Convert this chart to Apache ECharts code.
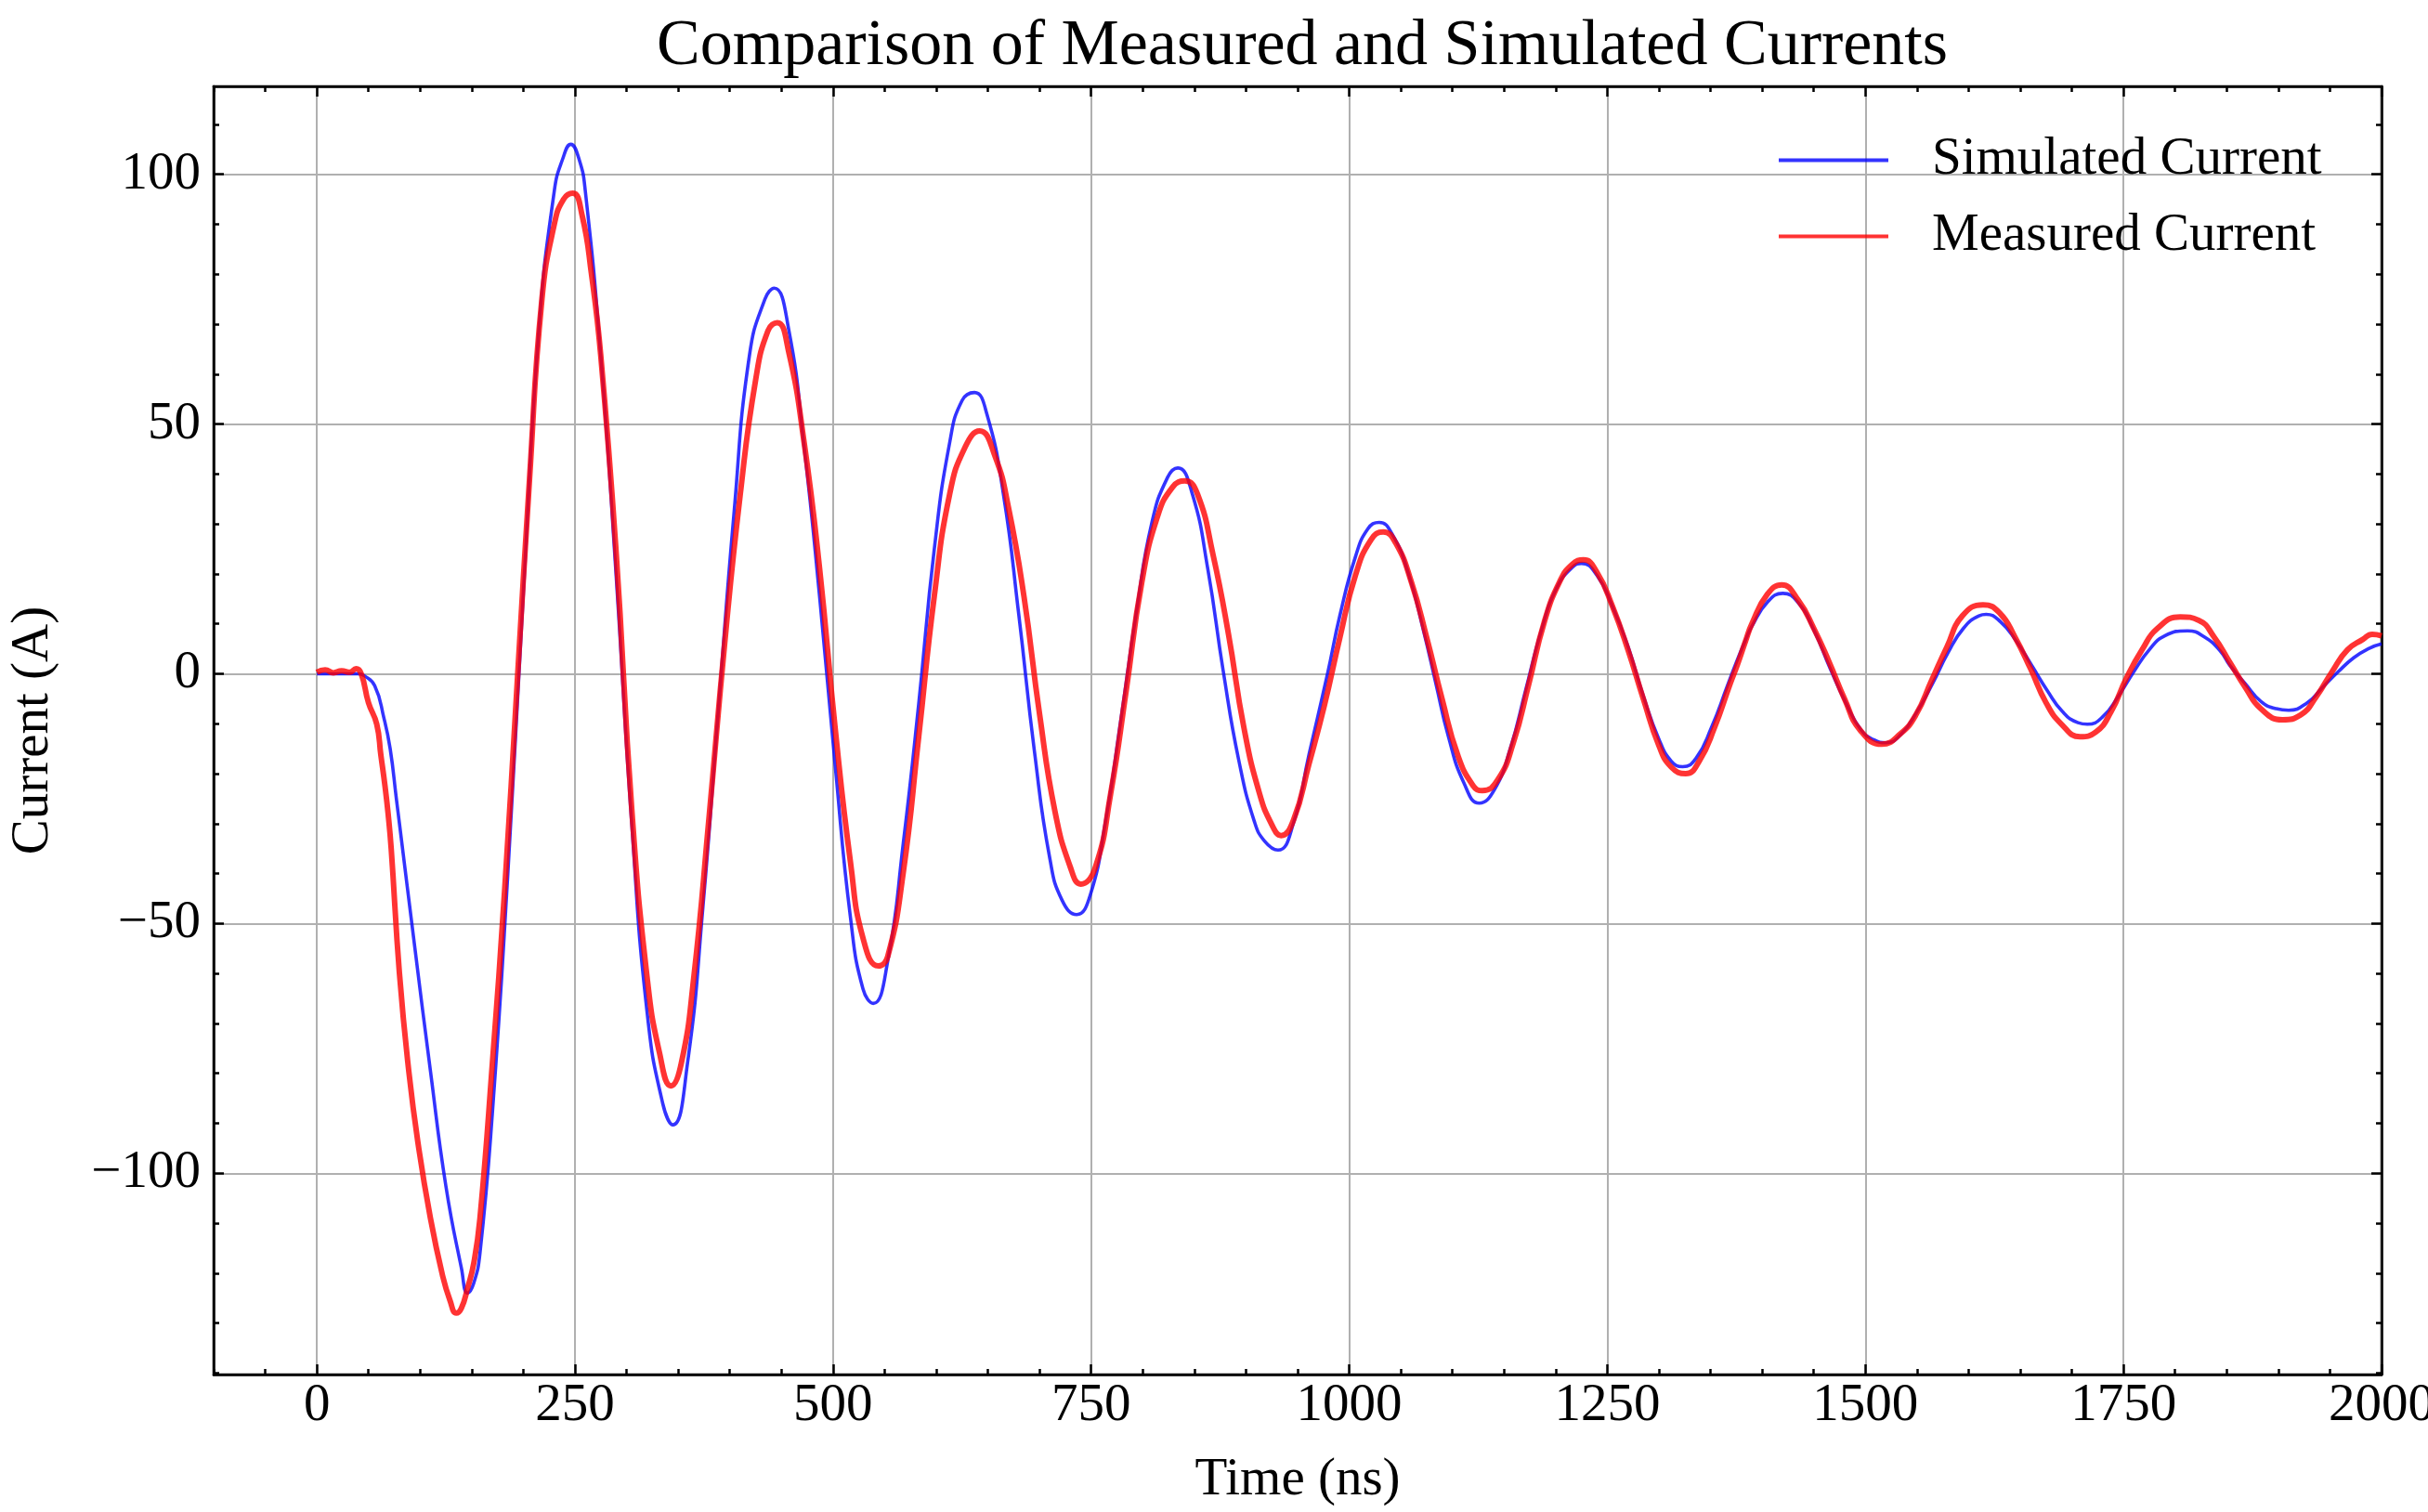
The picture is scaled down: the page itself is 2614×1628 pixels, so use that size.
<!DOCTYPE html>
<html><head><meta charset="utf-8">
<script src="https://cdn.jsdelivr.net/npm/echarts@6/dist/echarts.min.js"></script>
<style>html,body{margin:0;padding:0;background:#fff}#c{width:2614px;height:1628px}</style>
</head><body><div id="c"></div>
<script>
const simTime = [0,20,40,46,56,65,71,77,80,95,110,125,140,146,152,158,170,185,200,215,230,238,246,254,260,275,290,305,320,335,345,359,374,389,404,419,434,443,457,472,487,502,517,529,539,553,568,583,598,613,625,637,649,665,680,695,710,722,736,749,764,779,794,809,824,834,848,863,878,893,908,918,931,946,961,979,991,1006,1018,1029,1042,1057,1072,1084,1096,1111,1126,1141,1156,1171,1186,1201,1216,1225,1240,1255,1270,1285,1300,1312,1323,1336,1351,1366,1375,1384,1390,1405,1420,1435,1450,1466,1481,1496,1508,1520,1535,1550,1565,1580,1595,1610,1617,1631,1646,1661,1676,1691,1706,1715,1730,1745,1760,1775,1790,1812,1829,1844,1853,1868,1883,1898,1910,1928,1943,1958,1973,1988,2000];
const simCurrent = [0,0,0,-0.4,-2.4,-8.9,-15,-25,-30,-55,-79.5,-102.6,-119,-124,-122,-116,-88,-40,16,68.7,96.7,103,106,103,96.7,63.7,19.3,-30,-68,-86,-90.3,-78,-46.6,-7,32,63.7,75,77.2,69,45.4,15.4,-18.2,-49,-63.1,-66,-57.5,-34,-6,24.8,46.3,54.7,56.3,52,36,11.7,-15.4,-37,-45.4,-48.2,-44.4,-29.5,-8.9,12.6,30.4,39.3,41.2,36,21,0.5,-17.3,-29.5,-33.5,-35.3,-29.9,-16.2,0,11.7,23.4,29,30.3,27.8,20.3,8.6,-2,-12.5,-21.8,-25.9,-23.1,-15,-3.2,8.6,17.2,21.3,22.1,19.7,13.5,5.5,-4.5,-13.1,-17.5,-18.6,-16.9,-10.7,-2.6,2.3,6.8,9.5,14.3,16.1,14.2,8.8,1,-5.8,-11.3,-13.2,-13.8,-12,-7.6,-2,4.2,9.1,11.6,11.9,10.4,6.6,1.7,-3.3,-7.6,-9.8,-10.1,-8.6,-4.5,0.4,4.8,7.6,8.6,7.3,4.5,1.7,-2,-5.5,-7,-7.3,-5.8,-2.7,0.4,3.2,5.1,6];
const measTime = [0,8,16,24,32,38,43,50,58,62,66,69,72,80,89,98,110,122,129,135,140,146,152,158,170,182,194,206,218,230,239,248,257,266,275,290,305,320,332,343,353,365,380,395,410,425,437,446,457,472,487,502,517,529,544,553,568,583,598,613,628,642,657,670,685,700,715,730,740,754,769,784,799,814,829,841,853,868,883,898,913,925,934,946,961,976,991,1006,1021,1033,1045,1060,1075,1090,1105,1120,1129,1144,1159,1174,1189,1204,1216,1227,1240,1255,1270,1285,1300,1312,1326,1339,1354,1369,1376,1384,1390,1405,1419,1435,1450,1465,1480,1495,1516,1534,1549,1564,1579,1594,1614,1630,1645,1660,1675,1690,1708,1723,1738,1753,1768,1783,1805,1823,1838,1853,1868,1883,1904,1922,1937,1952,1967,1982,1991,2000];
const measCurrent = [0.3,0.8,0.2,0.6,0.3,1.0,0,-5.8,-10.1,-16.3,-22.5,-28,-35,-60,-79.5,-94,-109,-120.7,-125.5,-128,-127,-123,-118,-109,-78,-43,-2,39,75,90,95,96.2,91.7,80,63.7,24,-27,-61,-76,-82.5,-78,-61,-28.5,6,35.7,58.8,68.7,70.3,64.5,46.3,21,-10.8,-37.9,-52.9,-58.5,-56.6,-39.8,-12.6,15.4,36,45.4,48.6,43.5,33.2,15.4,-8,-27.6,-38.8,-42.1,-38.8,-23.9,-3.3,18.2,31.3,37.4,38.6,36,23.9,8,-10.8,-23.9,-30.2,-32.4,-29.3,-18.1,-6.3,7.3,19.7,26.8,28.4,26.2,18.5,7.3,-5.1,-16.2,-22.4,-23.4,-21.2,-13.8,-2,10.4,18.5,21.9,22.8,20.3,13.5,4.8,-5.1,-14.4,-18.7,-20,-17.5,-10.7,-2,1.8,6.6,10,15.9,17.8,14.7,9.1,2.3,-5.1,-11.3,-14.1,-12,-8.2,-1.4,5.4,11.6,13.8,12.2,7.3,1,-5.8,-10.1,-12.6,-11.7,-7.6,-0.8,4.8,9.1,11.4,10.7,7.3,2.3,-2.7,-7,-9.2,-8.2,-4.5,0.4,4.8,6.9,7.9,7.6];
const xMajorTicks = [0,250,500,750,1000,1250,1500,1750,2000];
const xMinorTicks = [-100,-50,0,50,100,150,200,250,300,350,400,450,500,550,600,650,700,750,800,850,900,950,1000,1050,1100,1150,1200,1250,1300,1350,1400,1450,1500,1550,1600,1650,1700,1750,1800,1850,1900,1950,2000];
const yMajorTicks = [-100,-50,0,50,100];
const yMinorTicks = [-140,-130,-120,-110,-100,-90,-80,-70,-60,-50,-40,-30,-20,-10,0,10,20,30,40,50,60,70,80,90,100,110];

const FONT = 'Liberation Serif';
const XMIN = -100, XMAX = 2000, YMIN = -140.3, YMAX = 117.6;
const black = '#000';
function fmt(v){ return v < 0 ? '\u2212' + Math.abs(v) : String(v); }

function xAx(pos, ticks, len, labels, split, line, extra) {
  return Object.assign({
    type: 'value', min: XMIN, max: XMAX, position: pos,
    axisLine: { show: line, onZero: false, lineStyle: { color: black, width: 2.5 } },
    axisTick: { show: true, inside: true, length: len, customValues: ticks, lineStyle: { color: black, width: 2.5 } },
    axisLabel: labels ? { show: true, customValues: ticks, fontFamily: FONT, fontSize: 57, color: black, margin: 6, formatter: fmt } : { show: false },
    splitLine: { show: split, lineStyle: { color: '#b0b0b0', width: 2 } }
  }, extra || {});
}
function yAx(pos, ticks, len, labels, split, line, extra) {
  return Object.assign({
    type: 'value', min: YMIN, max: YMAX, position: pos,
    axisLine: { show: line, onZero: false, lineStyle: { color: black, width: 2.5 } },
    axisTick: { show: true, inside: true, length: len, customValues: ticks, lineStyle: { color: black, width: 2.5 } },
    axisLabel: labels ? { show: true, customValues: ticks, fontFamily: FONT, fontSize: 57, color: black, margin: 14, formatter: fmt } : { show: false },
    splitLine: { show: split, lineStyle: { color: '#b0b0b0', width: 2 } }
  }, extra || {});
}

const chart = echarts.init(document.getElementById('c'), null, { renderer: 'canvas' });
chart.setOption({
  animation: false,
  backgroundColor: '#fff',
  title: {
    text: 'Comparison of Measured and Simulated Currents',
    left: 1397, top: 11, textAlign: 'center',
    textStyle: { fontFamily: FONT, fontSize: 70, fontWeight: 'normal', color: black }
  },
  legend: {
    orient: 'vertical', left: 1910, top: 139,
    itemWidth: 118, itemHeight: 4, itemGap: 25, icon: 'rect',
    textStyle: { fontFamily: FONT, fontSize: 57, color: black, padding: [0, 0, 0, 42] },
    data: ['Simulated Current', 'Measured Current']
  },
  grid: { left: 230, right: 50, top: 93, bottom: 148, containLabel: false, outerBoundsMode: 'none',
          show: true, borderColor: black, borderWidth: 2.5, backgroundColor: 'transparent' },
  xAxis: [
    xAx('bottom', xMajorTicks, 11, true, true, true, {
      name: 'Time (ns)', nameLocation: 'middle', nameGap: 86,
      nameTextStyle: { fontFamily: FONT, fontSize: 57, color: black }
    }),
    xAx('bottom', xMinorTicks, 6, false, false, false),
    xAx('top', xMajorTicks, 11, false, false, true),
    xAx('top', xMinorTicks, 6, false, false, false)
  ],
  yAxis: [
    yAx('left', yMajorTicks, 11, true, true, true, {
      name: 'Current (A)', nameLocation: 'middle', nameGap: 165,
      nameTextStyle: { fontFamily: FONT, fontSize: 57, color: black }
    }),
    yAx('left', yMinorTicks, 6, false, false, false),
    yAx('right', yMajorTicks, 11, false, false, true),
    yAx('right', yMinorTicks, 6, false, false, false)
  ],
  series: [
    {
      name: 'Simulated Current', type: 'line', xAxisIndex: 0, yAxisIndex: 0,
      data: simTime.map((t, i) => [t, simCurrent[i]]),
      showSymbol: false, symbol: 'none', smooth: 0.5,
      lineStyle: { color: 'rgba(0,0,255,0.8)', width: 3.6 },
      itemStyle: { color: 'rgba(0,0,255,0.8)' }
    },
    {
      name: 'Measured Current', type: 'line', xAxisIndex: 0, yAxisIndex: 0,
      data: measTime.map((t, i) => [t, measCurrent[i]]),
      showSymbol: false, symbol: 'none', smooth: 0.5,
      lineStyle: { color: 'rgba(255,0,0,0.8)', width: 6 },
      itemStyle: { color: 'rgba(255,0,0,0.8)' }
    }
  ]
});
</script>
</body></html>
